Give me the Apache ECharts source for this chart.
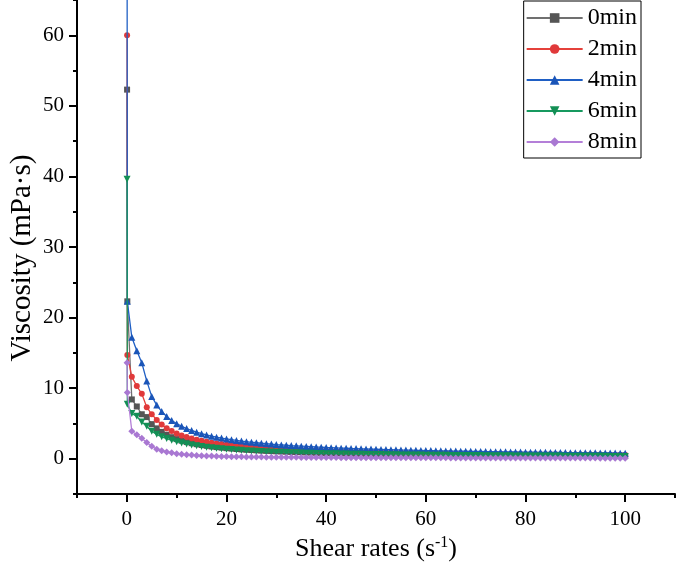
<!DOCTYPE html>
<html>
<head>
<meta charset="utf-8">
<script src="https://cdn.jsdelivr.net/npm/echarts@6/dist/echarts.min.js"></script>
<style>html,body{margin:0;padding:0;background:#fff;}#chart{width:677px;height:577px;}</style>
</head>
<body>
<div id="chart"></div>
<script>
// Shear rate (s^-1)
const shearRates = [0.05, 0.1,
 1,2,3,4,5,6,7,8,9,10,11,12,13,14,15,16,17,18,19,20,
 21,22,23,24,25,26,27,28,29,30,31,32,33,34,35,36,37,38,39,40,
 41,42,43,44,45,46,47,48,49,50,51,52,53,54,55,56,57,58,59,60,
 61,62,63,64,65,66,67,68,69,70,71,72,73,74,75,76,77,78,79,80,
 81,82,83,84,85,86,87,88,89,90,91,92,93,94,95,96,97,98,99,100];

const seriesNames = ['0min', '2min', '4min', '6min', '8min'];

const visc0min = [52.3, 22.3,
 8.4,7.4,6.3,5.9,4.9,4.3,3.8,3.4,3.05,2.78,2.55,2.36,2.20,2.06,1.94,1.83,1.73,1.65,1.57,1.50,
 1.44,1.38,1.32,1.27,1.23,1.19,1.15,1.11,1.08,1.05,1.02,0.99,0.96,0.94,0.92,0.89,0.87,0.85,0.83,0.82,
 0.80,0.78,0.77,0.75,0.74,0.72,0.71,0.70,0.69,0.67,0.66,0.65,0.64,0.63,0.62,0.61,0.60,0.59,0.58,0.58,
 0.57,0.56,0.55,0.55,0.54,0.53,0.53,0.52,0.51,0.51,0.50,0.50,0.49,0.48,0.48,0.47,0.47,0.46,0.46,0.45,
 0.45,0.44,0.44,0.43,0.43,0.43,0.42,0.42,0.41,0.41,0.41,0.40,0.40,0.39,0.39,0.39,0.38,0.38,0.38,0.37];

const visc2min = [60.0, 14.7,
 11.6,10.3,9.2,7.3,6.3,5.5,4.85,4.33,3.92,3.58,3.30,3.07,2.86,2.68,2.53,2.39,2.27,2.16,2.07,1.98,
 1.90,1.83,1.76,1.70,1.64,1.59,1.54,1.50,1.45,1.41,1.38,1.34,1.31,1.28,1.25,1.22,1.19,1.17,1.14,1.12,
 1.10,1.08,1.06,1.04,1.02,1.00,0.98,0.97,0.95,0.94,0.92,0.91,0.89,0.88,0.87,0.86,0.84,0.83,0.82,0.81,
 0.80,0.79,0.78,0.77,0.76,0.75,0.75,0.74,0.73,0.72,0.71,0.71,0.70,0.69,0.69,0.68,0.67,0.67,0.66,0.65,
 0.65,0.64,0.64,0.63,0.63,0.62,0.61,0.61,0.60,0.60,0.60,0.59,0.59,0.58,0.58,0.57,0.57,0.56,0.56,0.55];

const visc4min = [80.0, 22.3,
 17.2,15.3,13.6,11.0,8.83,7.60,6.68,5.98,5.42,4.97,4.60,4.28,4.00,3.76,3.55,3.36,3.20,3.05,2.92,2.80,
 2.69,2.59,2.50,2.41,2.33,2.26,2.19,2.13,2.07,2.01,1.96,1.91,1.86,1.82,1.78,1.74,1.70,1.66,1.63,1.59,
 1.56,1.53,1.50,1.48,1.45,1.43,1.40,1.38,1.36,1.34,1.32,1.30,1.28,1.26,1.24,1.23,1.21,1.19,1.18,1.16,
 1.15,1.13,1.12,1.11,1.09,1.08,1.07,1.06,1.05,1.03,1.02,1.01,1.00,0.99,0.98,0.97,0.96,0.95,0.94,0.93,
 0.92,0.92,0.91,0.90,0.89,0.88,0.88,0.87,0.86,0.85,0.85,0.84,0.83,0.83,0.82,0.81,0.81,0.80,0.79,0.79];

const visc6min = [39.6, 7.7,
 6.4,6.0,5.2,4.6,3.9,3.45,3.1,2.85,2.62,2.42,2.24,2.09,1.96,1.84,1.74,1.64,1.56,1.48,1.41,1.35,
 1.29,1.24,1.19,1.14,1.10,1.06,1.02,0.99,0.96,0.93,0.90,0.88,0.85,0.83,0.81,0.79,0.77,0.75,0.73,0.72,
 0.70,0.69,0.67,0.66,0.65,0.63,0.62,0.61,0.60,0.59,0.58,0.57,0.56,0.55,0.54,0.53,0.53,0.52,0.51,0.50,
 0.50,0.49,0.48,0.48,0.47,0.46,0.46,0.45,0.45,0.44,0.44,0.43,0.43,0.42,0.42,0.41,0.41,0.40,0.40,0.39,
 0.39,0.39,0.38,0.38,0.37,0.37,0.37,0.36,0.36,0.36,0.35,0.35,0.35,0.34,0.34,0.34,0.33,0.33,0.33,0.32];

const visc8min = [13.6, 9.4,
 3.9,3.4,2.9,2.3,1.75,1.35,1.12,0.95,0.83,0.72,0.64,0.57,0.52,0.47,0.43,0.40,0.37,0.35,0.33,0.31,
 0.29,0.28,0.27,0.26,0.25,0.24,0.23,0.22,0.21,0.21,0.20,0.20,0.19,0.19,0.18,0.18,0.17,0.17,0.17,0.16,
 0.16,0.16,0.15,0.15,0.15,0.15,0.14,0.14,0.14,0.14,0.13,0.13,0.13,0.13,0.13,0.13,0.13,0.12,0.12,0.12,
 0.12,0.12,0.12,0.12,0.11,0.11,0.11,0.11,0.11,0.11,0.11,0.10,0.10,0.10,0.10,0.10,0.10,0.10,0.10,0.10,
 0.10,0.10,0.09,0.09,0.09,0.09,0.09,0.09,0.09,0.09,0.09,0.09,0.09,0.09,0.08,0.08,0.08,0.08,0.08,0.08];

const xTickLabels = [0, 20, 40, 60, 80, 100];
const yTickLabels = [0, 10, 20, 30, 40, 50, 60];

const allValues = [visc0min, visc2min, visc4min, visc6min, visc8min];
const colors = ['#707070', '#e5413b', '#1f5fc4', '#17995f', '#b47fd8'];
const markerColors = ['#555555', '#e0393a', '#1a55b8', '#138f55', '#a978d2'];
const symbols = ['rect', 'circle', 'triangle', 'triangle', 'diamond'];
const rotations = [0, 0, 0, 180, 0];
const sizes = [6, 6, 7, 7, 7];

const font = '"Liberation Serif", "Times New Roman", serif';
const chart = echarts.init(document.getElementById('chart'), null, {renderer: 'canvas'});

const series = seriesNames.map((name, i) => ({
  name: name,
  type: 'line',
  xAxisIndex: 0,
  yAxisIndex: 0,
  data: shearRates.map((x, j) => [x, allValues[i][j]]),
  symbol: symbols[i],
  symbolRotate: rotations[i],
  symbolSize: sizes[i],
  showAllSymbol: true,
  lineStyle: {color: colors[i], width: 1.3},
  itemStyle: {color: markerColors[i]},
  emphasis: {disabled: true},
  animation: false,
  z: 2 + i
}));

chart.setOption({
  backgroundColor: '#fff',
  animation: false,
  grid: {left: 65, right: 2, top: 0, bottom: 83, containLabel: false},
  legend: {
    data: seriesNames,
    orient: 'vertical',
    right: 36,
    top: 1,
    itemWidth: 56,
    itemHeight: 12,
    itemGap: 7,
    padding: [5, 4, 4, 2],
    borderColor: '#000',
    borderWidth: 1,
    backgroundColor: '#fff',
    textStyle: {fontFamily: font, fontSize: 24, color: '#000', lineHeight: 24, padding: [0, 0, 0, 0]},
    z: 20
  },
  xAxis: [{
    type: 'value', min: -10, max: 110, interval: 10,
    axisLine: {show: true, onZero: false, lineStyle: {color: '#000', width: 2}},
    axisTick: {show: true, length: 4, lineStyle: {color: '#000', width: 2}},
    axisLabel: {show: false},
    splitLine: {show: false},
    name: '{a|Shear rates (s}{b|-1}{a|)}',
    nameLocation: 'middle',
    nameGap: 41,
    nameTextStyle: {
      rich: {
        a: {fontFamily: font, fontSize: 26, color: '#000'},
        b: {fontFamily: font, fontSize: 16, color: '#000', verticalAlign: 'top', padding: [0, 0, 13, 0]}
      }
    }
  }, {
    type: 'value', min: -10, max: 110, position: 'bottom',
    axisLine: {show: false, onZero: false},
    axisTick: {show: true, length: 8, customValues: xTickLabels, lineStyle: {color: '#000', width: 2}},
    axisLabel: {show: true, customValues: xTickLabels, fontFamily: font, fontSize: 21, color: '#000', margin: 15},
    splitLine: {show: false}
  }],
  yAxis: [{
    type: 'value', min: -5, max: 65, interval: 5,
    axisLine: {show: true, onZero: false, lineStyle: {color: '#000', width: 2}},
    axisTick: {show: true, length: 4, lineStyle: {color: '#000', width: 2}},
    axisLabel: {show: false},
    splitLine: {show: false},
    name: 'Viscosity (mPa·s)',
    nameLocation: 'middle',
    nameGap: 40,
    nameTextStyle: {fontFamily: font, fontSize: 29, color: '#000', padding: [0, 22, 0, 0]}
  }, {
    type: 'value', min: -5, max: 65, position: 'left',
    axisLine: {show: false, onZero: false},
    axisTick: {show: true, length: 8, customValues: yTickLabels, lineStyle: {color: '#000', width: 2}},
    axisLabel: {show: true, customValues: yTickLabels, fontFamily: font, fontSize: 21, color: '#000', margin: 13},
    splitLine: {show: false}
  }],
  series: series
});
</script>
</body>
</html>
